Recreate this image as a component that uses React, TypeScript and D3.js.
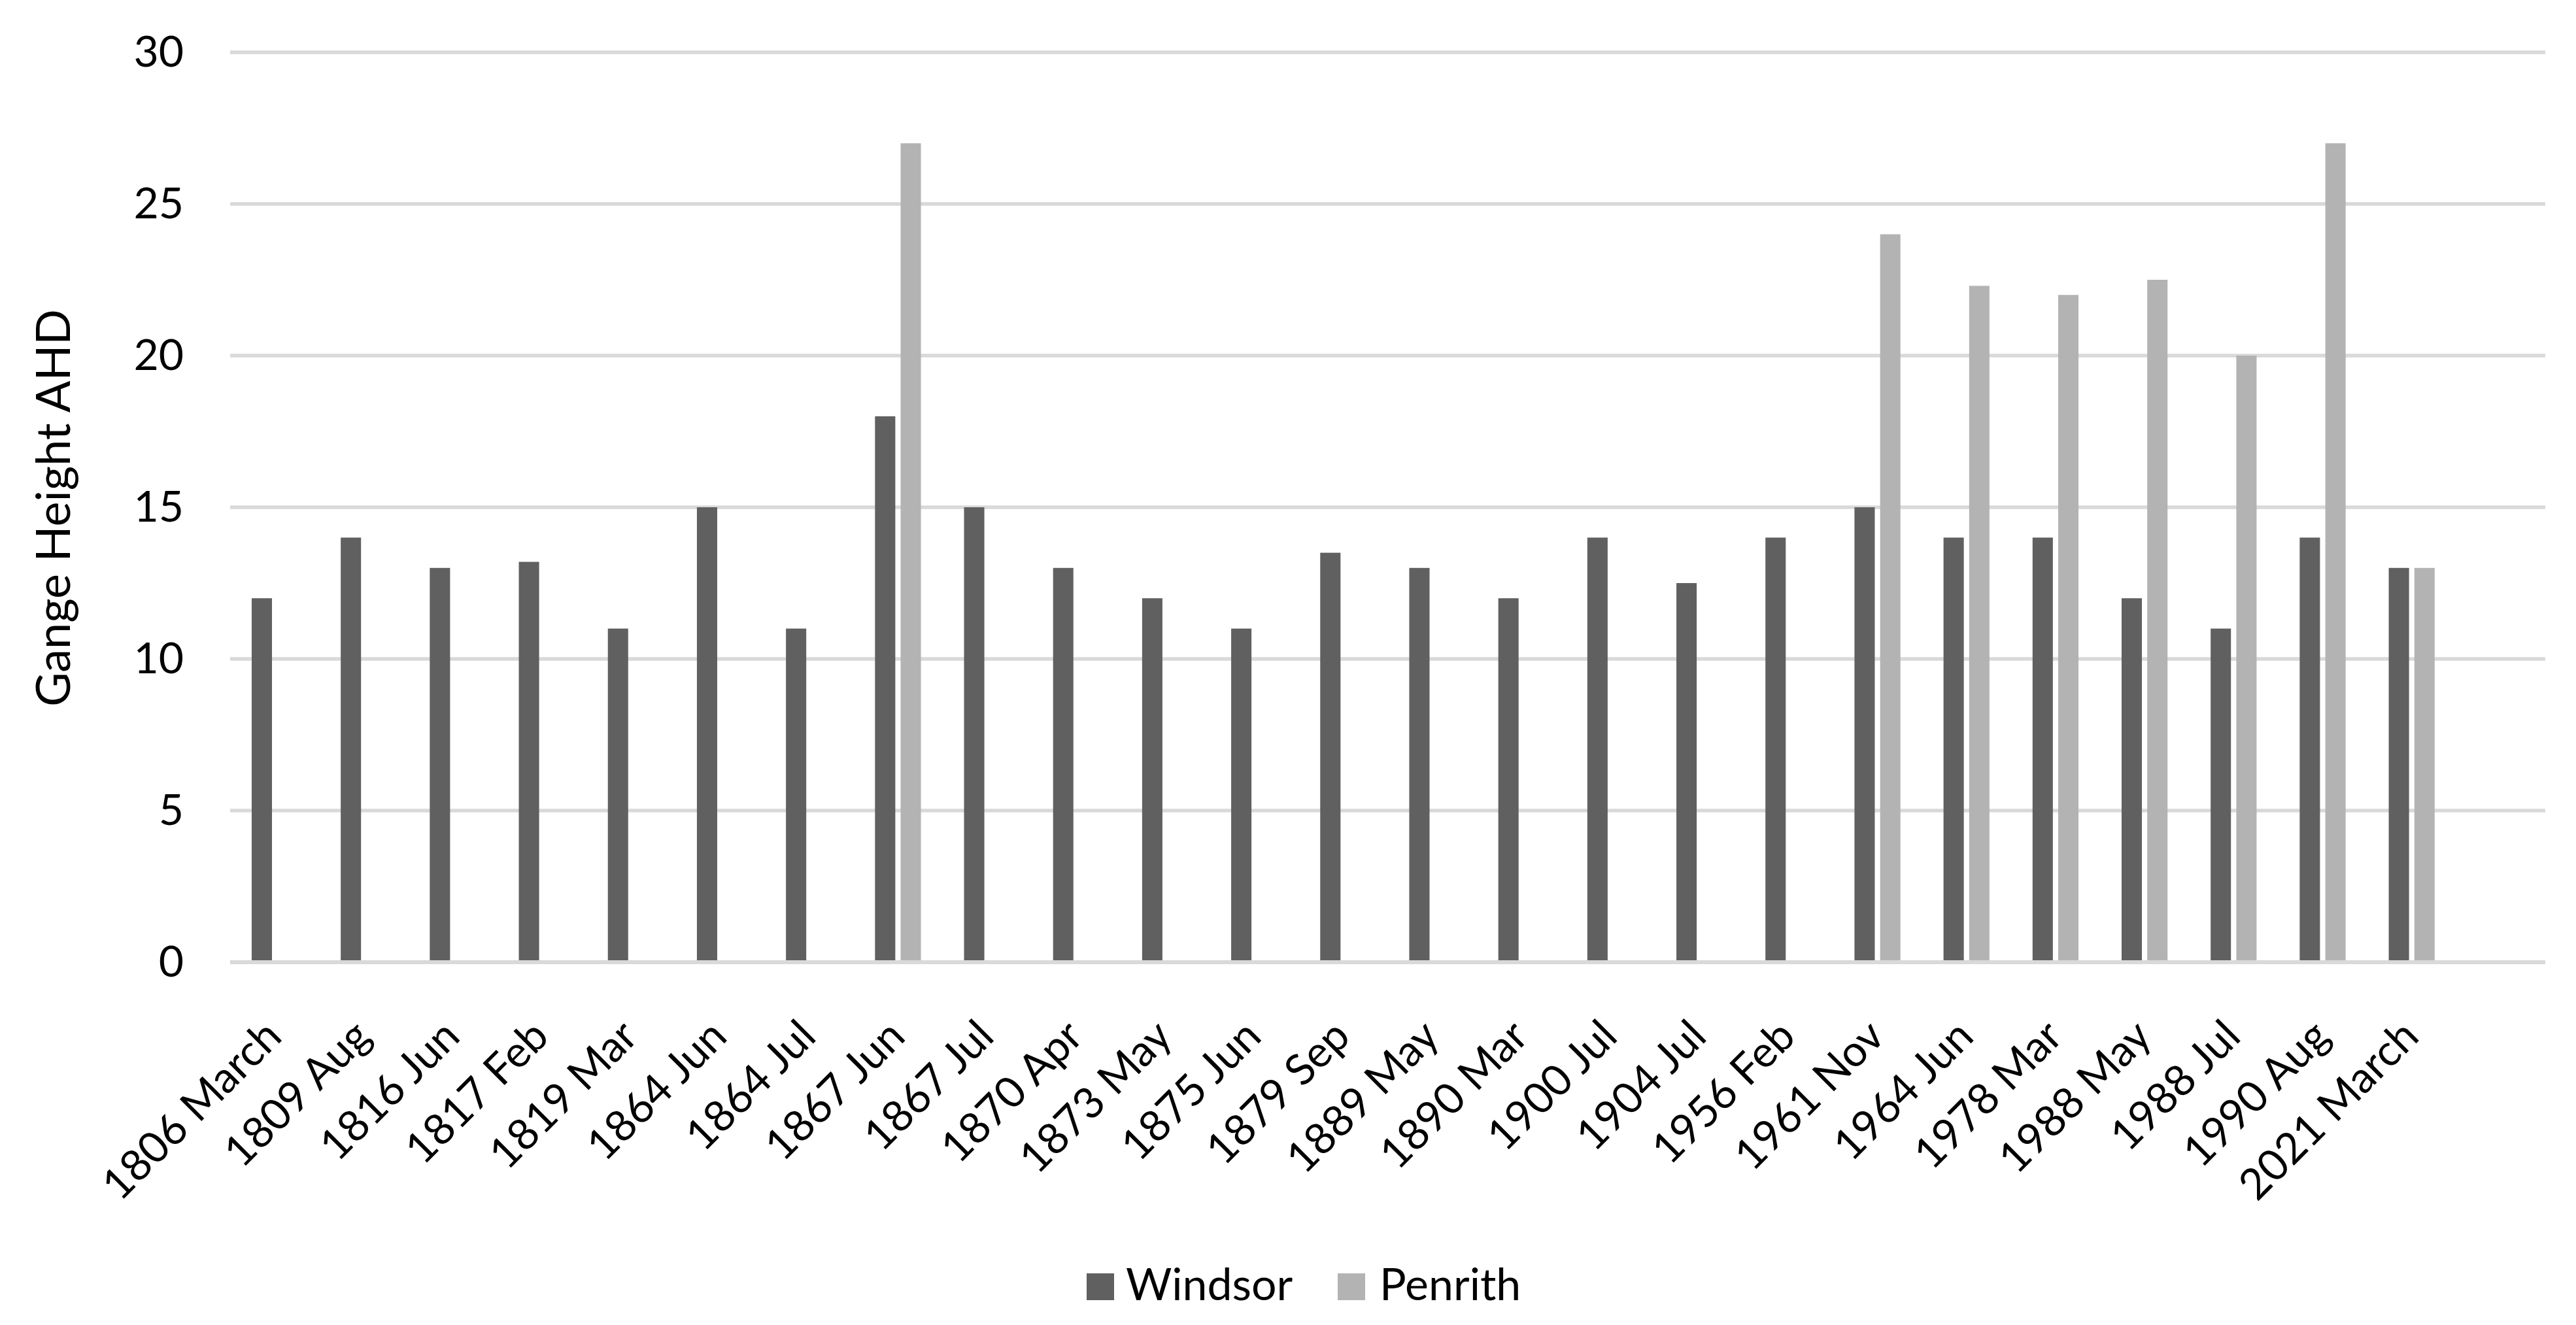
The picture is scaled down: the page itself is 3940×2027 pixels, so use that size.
import React from "react";
import * as d3 from "d3";

const categories: string[] = [
  "1806 March", "1809 Aug", "1816 Jun", "1817 Feb", "1819 Mar", "1864 Jun", "1864 Jul",
  "1867 Jun", "1867 Jul", "1870 Apr", "1873 May", "1875 Jun", "1879 Sep", "1889 May",
  "1890 Mar", "1900 Jul", "1904 Jul", "1956 Feb", "1961 Nov", "1964 Jun", "1978 Mar",
  "1988 May", "1988 Jul", "1990 Aug", "2021 March",
];
const windsor: (number | null)[] = [
  12, 14, 13, 13.2, 11, 15, 11, 18, 15, 13, 12, 11, 13.5, 13, 12, 14, 12.5, 14, 15, 14, 14, 12, 11, 14, 13,
];
const penrith: (number | null)[] = [
  null, null, null, null, null, null, null, 27, null, null, null, null, null, null,
  null, null, null, null, 24, 22.3, 22, 22.5, 20, 27, 13,
];
const yTicks: number[] = [0, 5, 10, 15, 20, 25, 30];
const seriesNames: string[] = ["Windsor", "Penrith"];
const seriesColors: string[] = ["#606060", "#B3B3B3"];

const W = 3940;
const H = 2027;
const FONT = "Lato, 'Open Sans', sans-serif";
const FS = 66;

export default function App() {
  const left = 352;
  const right = 3893;
  const top = 80;
  const bottom = 1472;

  const x = d3.scaleBand<string>().domain([...categories, ""]).range([left, right]).paddingInner(0).paddingOuter(0);
  const y = d3.scaleLinear().domain([0, 30]).range([bottom, top]);
  const bw = x.bandwidth();
  const barW = bw * 0.228;
  const gap = bw * 0.06;
  const series = [windsor, penrith];

  return (
    <svg width={W} height={H} style={{ position: "absolute", left: 0, top: 0, background: "#fff" }} fontFamily={FONT}>
      <rect x={0} y={0} width={W} height={H} fill="#fff" />
      {yTicks.filter((t) => t !== 0).map((t) => (
        <line key={"g" + t} x1={left} x2={right} y1={y(t)} y2={y(t)} stroke="#D9D9D9" strokeWidth={5.7} />
      ))}
      {yTicks.map((t) => (
        <text key={"t" + t} x={281} y={y(t)} dy="0.33em" textAnchor="end" fontSize={FS} fill="#000">
          {t}
        </text>
      ))}
      {categories.map((c, i) => {
        const xc = (x(c) as number) + bw / 2;
        return (
          <g key={c}>
            {series.map((s, si) => {
              const v = s[i];
              if (v == null) return null;
              const bx = si === 0 ? xc - gap / 2 - barW : xc + gap / 2;
              return <rect key={si} x={bx} y={y(v)} width={barW} height={y(0) - y(v)} fill={seriesColors[si]} />;
            })}
            <text
              transform={`translate(${xc + 14},${1589}) rotate(-45)`}
              textAnchor="end"
              fontSize={FS}
              fill="#000"
            >
              {c}
            </text>
          </g>
        );
      })}
      <line x1={left} x2={right} y1={y(0)} y2={y(0)} stroke="#D9D9D9" strokeWidth={6} />
      <text transform={`translate(81,777) rotate(-90)`} dy="0.36em" textAnchor="middle" fontSize={72} fill="#000">
        Gange Height AHD
      </text>
      <g>
        <rect x={1662} y={1948} width={42} height={41} fill={seriesColors[0]} />
        <text x={1722} y={1989} fontSize={68} fill="#000">{seriesNames[0]}</text>
        <rect x={2046} y={1948} width={42} height={41} fill={seriesColors[1]} />
        <text x={2110} y={1989} fontSize={68} fill="#000">{seriesNames[1]}</text>
      </g>
    </svg>
  );
}
